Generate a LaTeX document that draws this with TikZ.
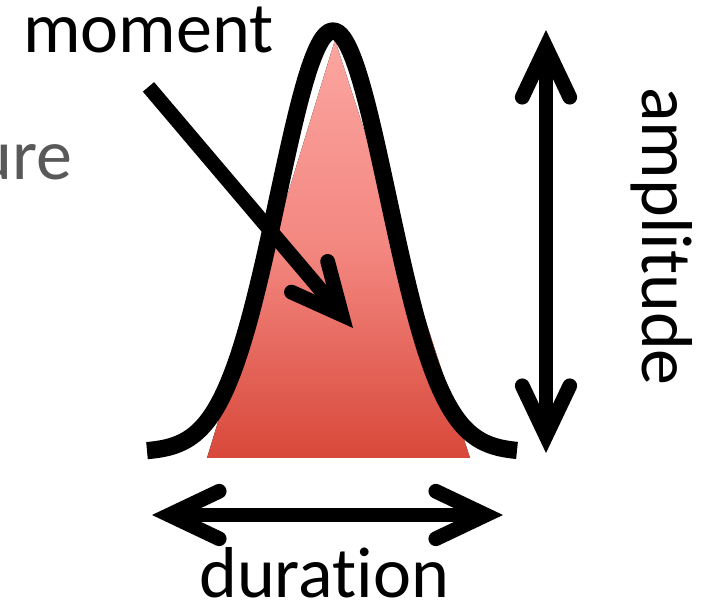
\documentclass[tikz,border=0pt]{standalone}
\usepackage{fontspec}
\setmainfont{Carlito}[Ligatures=NoCommon]
\usepackage{tikz}
\usetikzlibrary{arrows.meta, calc}
\definecolor{pulsetop}{RGB}{252,165,160}
\definecolor{pulsemid}{RGB}{243,135,128}
\definecolor{pulsebot}{RGB}{216,72,58}
\definecolor{fadegrey}{RGB}{89,89,89}
\newcommand{\biglabel}{\fontsize{41pt}{49pt}\selectfont}

\begin{document}
\begin{tikzpicture}[x=0.02cm, y=-0.02cm,
    barb/.style={line width=8.4pt, line cap=butt},
    lbl/.style={font=\biglabel, inner sep=0pt},
    >={Straight Barb[length=1cm, width=0.95cm, line cap=round, line join=miter]}]
    \useasboundingbox (0,0) rectangle (724,607);

    % Pulse shape
    \fill[top color=pulsetop, bottom color=pulsebot, middle color=pulsemid] (207,458) -- (335,40) -- (470,458) -- cycle;
    \draw[line width=9.8pt, line join=round] plot[domain=147:517, samples=150] (\x, {452-421*exp(-((\x-333)/55)*((\x-333)/55)/2)});

    % Labels
    \node[lbl, anchor=base west] (moment) at (23,53) {moment};
    \node[lbl, anchor=base east, text=fadegrey] (ure) at (73,180) {ure};
    \node[lbl, anchor=base west] (duration) at (199,598) {duration};
    \node[lbl, anchor=base west, rotate=-90] (amplitude) at (642,87) {amplitude};

    % Arrows
    \coordinate (mtail) at ($(moment.south)+(0,33)$);
    \coordinate (mtip) at (353,328);
    \coordinate (dleft) at (152,515);
    \coordinate (dright) at (503,515);
    \coordinate (atop) at (546,30);
    \coordinate (abot) at (546,453);
    \draw[barb, ->] (mtail) -- (mtip);
    \draw[barb, <->] (dleft) -- (dright);
    \draw[barb, <->] (atop) -- (abot);
\end{tikzpicture}
\end{document}
